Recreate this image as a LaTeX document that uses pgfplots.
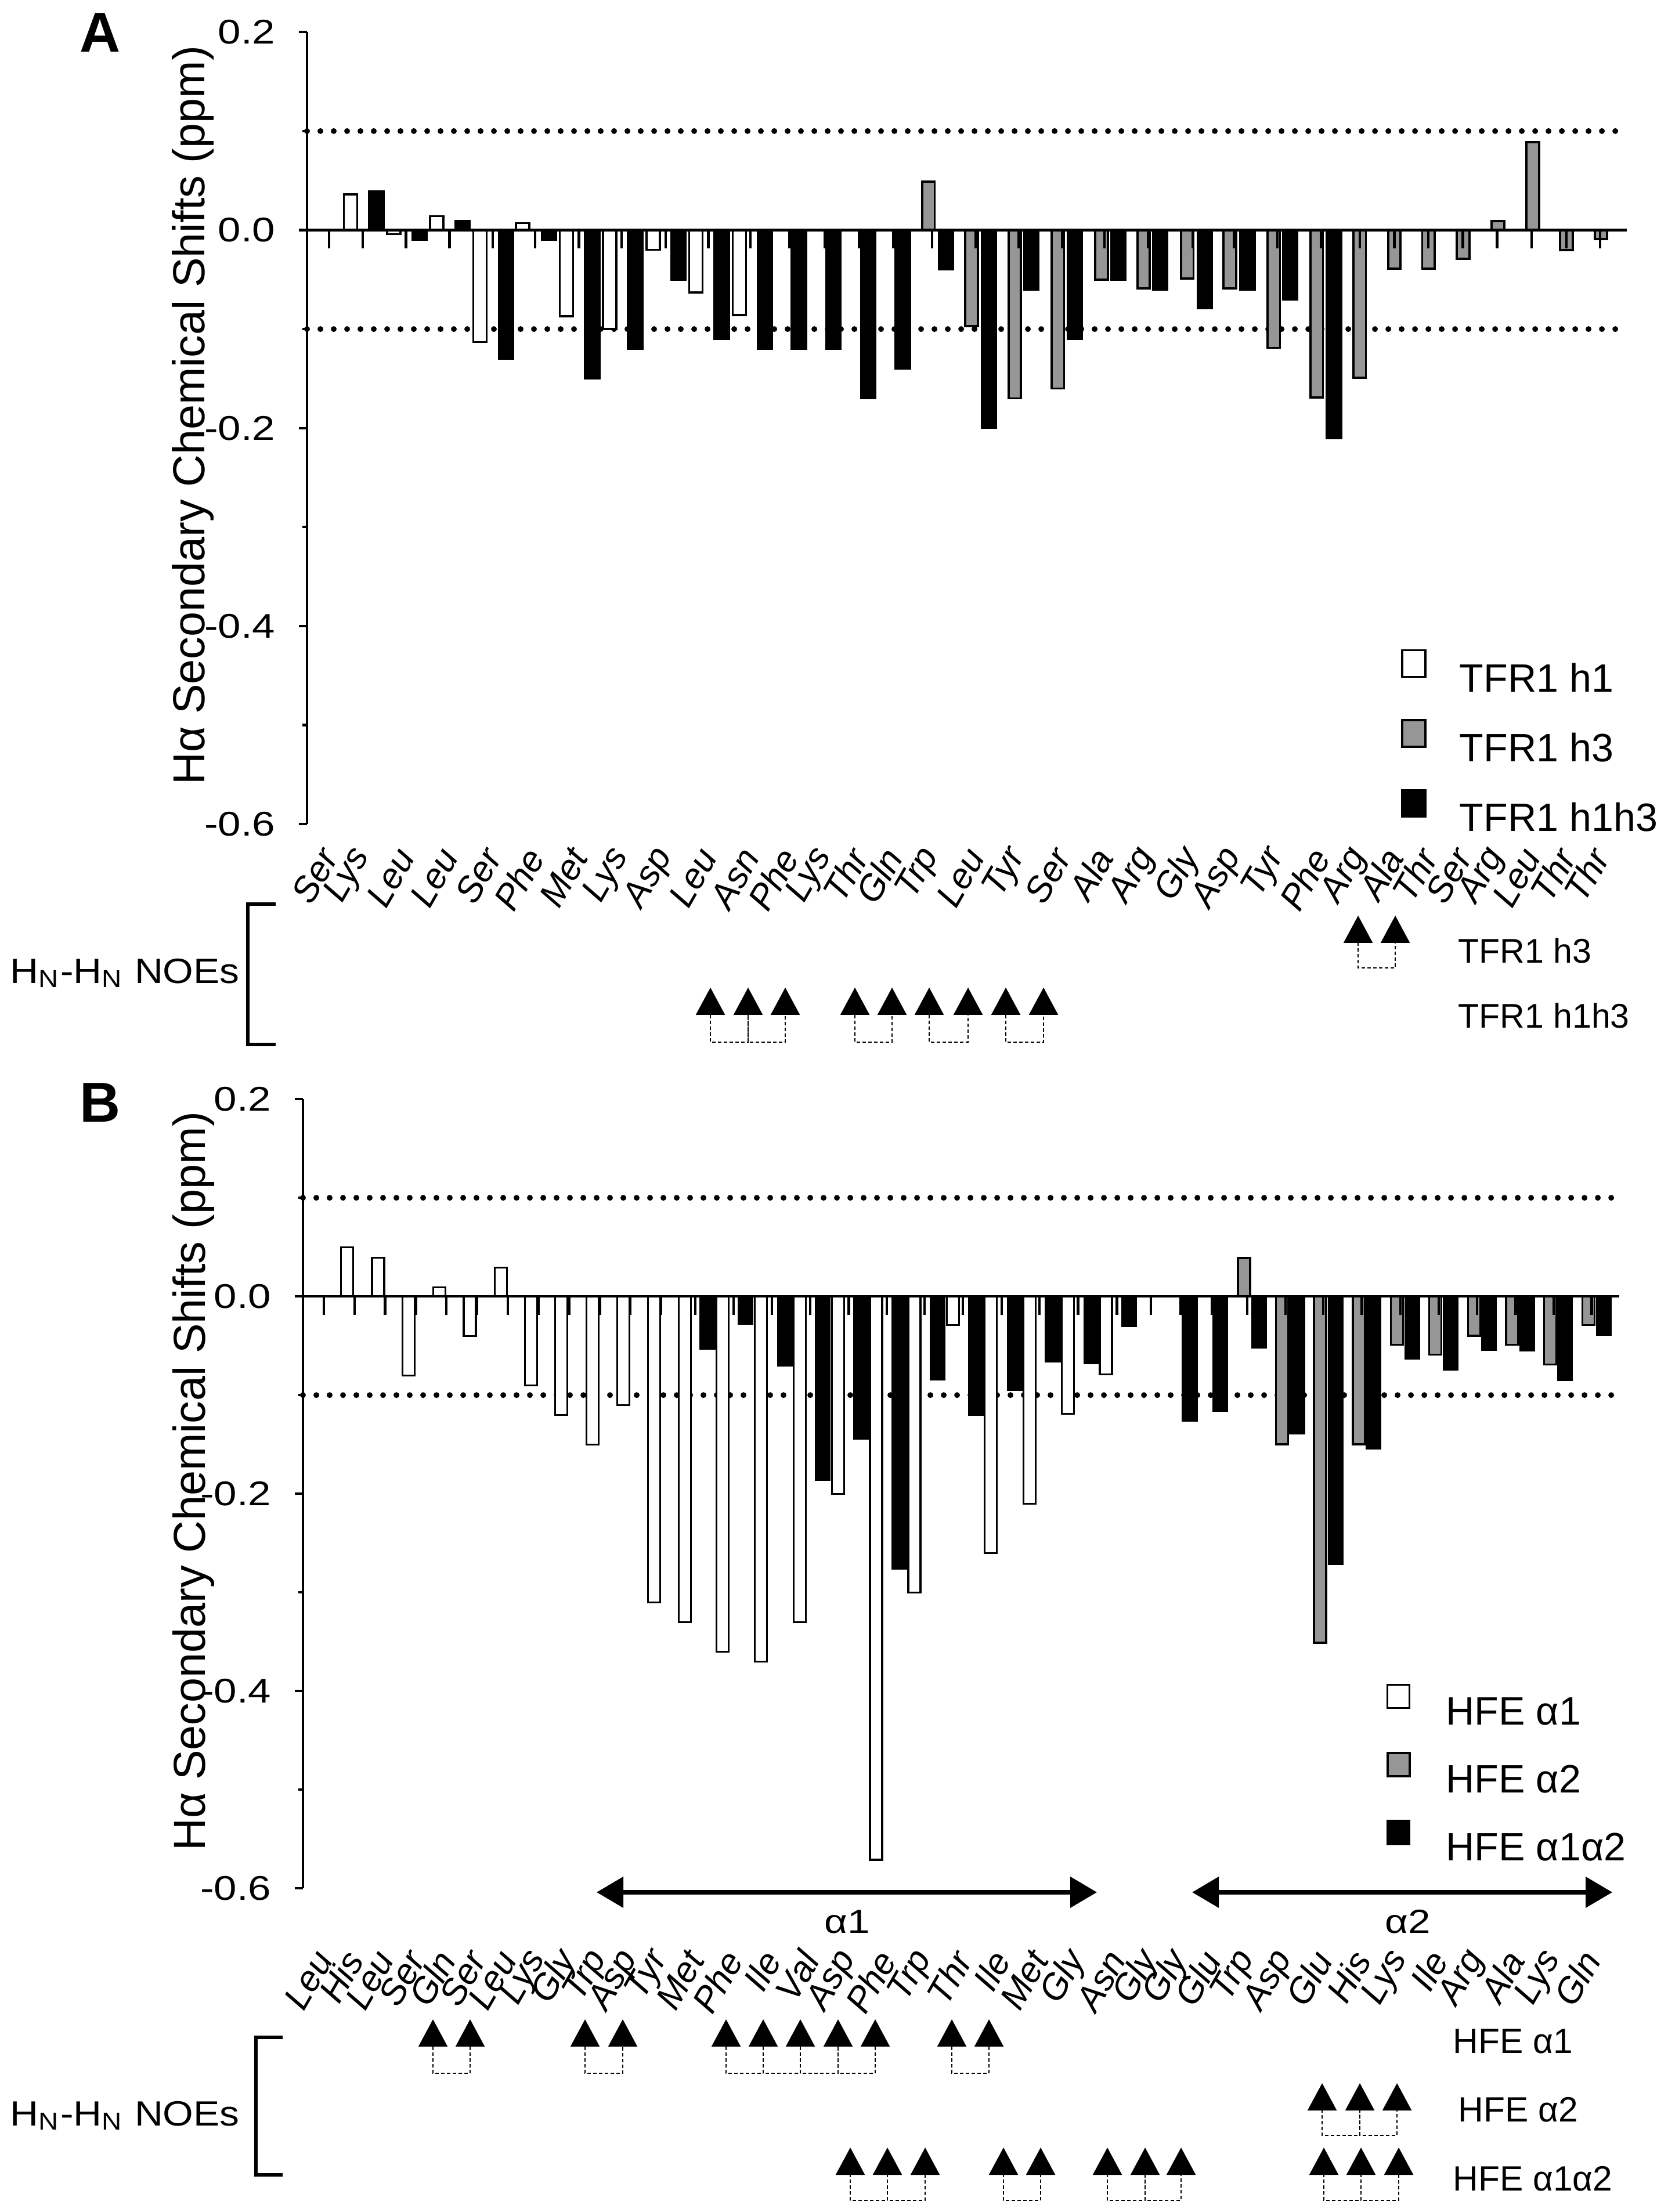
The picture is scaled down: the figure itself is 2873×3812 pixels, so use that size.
\documentclass[border=0pt]{standalone}
\usepackage{fontspec}
\setmainfont{Liberation Sans}
\newfontfamily\widefont{Liberation Sans}[FakeStretch=1.2]
\newfontfamily\noefont{Liberation Sans}[FakeStretch=1.12]
\usepackage{pgfplots}
\pgfplotsset{compat=1.18}
\usetikzlibrary{arrows.meta}
\definecolor{bargray}{RGB}{150,150,150}

% ---------------- data (x = bar centre, y = shift in ppm) ----------------
\pgfplotstableread{
x y
604.1 0.036
678.3 -0.004
752.7 0.014
827.1 -0.113
900.5 0.007
975.9 -0.087
1050.3 -0.100
1125.2 -0.020
1198.9 -0.063
1274.0 -0.086
}\Ahone
\pgfplotstableread{
x y
1599.6 0.049
1673.8 -0.097
1748.4 -0.170
1822.6 -0.160
1897.7 -0.050
1970.4 -0.059
2045.6 -0.049
2119.0 -0.059
2194.6 -0.119
2268.6 -0.169
2342.6 -0.149
2402.5 -0.039
2461.2 -0.039
2521.0 -0.029
2581.0 0.009
2640.8 0.089
2699.0 -0.020
2758.3 -0.009
}\Ahthree
\pgfplotstableread{
x y
648.5 0.039
722.9 -0.010
796.8 0.009
871.9 -0.130
945.8 -0.010
1020.7 -0.150
1094.4 -0.120
1168.8 -0.050
1243.5 -0.110
1318.0 -0.120
1376.6 -0.120
1435.8 -0.120
1495.9 -0.170
1555.5 -0.140
1629.7 -0.040
1703.8 -0.200
1777.0 -0.060
1851.7 -0.110
1926.8 -0.050
1999.0 -0.060
2076.0 -0.079
2149.5 -0.060
2223.0 -0.070
2298.6 -0.210
}\Ahboth
\pgfplotstableread{
x y
598.0 0.050
651.4 0.039
704.2 -0.080
757.0 0.009
809.4 -0.040
863.2 0.029
915.0 -0.090
967.0 -0.120
1020.7 -0.150
1073.6 -0.110
1126.9 -0.310
1179.7 -0.330
1245.2 -0.360
1310.7 -0.370
1377.6 -0.330
1444.0 -0.200
1509.5 -0.571
1575.4 -0.300
1641.8 -0.029
1707.2 -0.260
1773.6 -0.210
1839.6 -0.119
1905.5 -0.079
}\Bone
\pgfplotstableread{
x y
2143.5 0.039
2208.8 -0.150
2274.6 -0.351
2341.5 -0.150
2406.8 -0.049
2472.7 -0.059
2540.1 -0.040
2605.4 -0.049
2670.7 -0.069
2737.1 -0.029
}\Btwo
\pgfplotstableread{
x y
1219.0 -0.053
1284.5 -0.028
1352.4 -0.070
1417.4 -0.186
1483.8 -0.144
1549.7 -0.276
1615.1 -0.084
1682.0 -0.120
1748.4 -0.095
1813.9 -0.066
1880.8 -0.068
1945.7 -0.030
2049.9 -0.126
2102.7 -0.116
2169.6 -0.052
2234.9 -0.139
2301.3 -0.271
2366.6 -0.154
2433.5 -0.063
2499.3 -0.074
2565.7 -0.054
2631.0 -0.055
2696.8 -0.085
2763.2 -0.039
}\Bboth

\def\Aticks{567,625.2,699.4,774.5,848.6,922.3,997.5,1071.1,1146.8,1220.4,1293.3,1360.4,1420.7,1479.9,1539.5,1605.9,1681.5,1754.7,1829.9,1902.6,1977.7,2054.8,2126,2201,2275.7,2342.6,2402.5,2460.7,2520.5,2579.3,2639.2,2699,2757.2}
\def\Alabels{Ser,Lys,Leu,Leu,Ser,Phe,Met,Lys,Asp,Leu,Asn,Phe,Lys,Thr,Gln,Trp,Leu,Tyr,Ser,Ala,Arg,Gly,Asp,Tyr,Phe,Arg,Ala,Thr,Ser,Arg,Leu,Thr,Thr}
\def\Bticks{557.8,610.6,663.5,716.8,769.2,822,874.8,928.2,981,1033.8,1086.2,1139,1198.2,1264.1,1330.1,1396,1462.4,1527.9,1593.3,1659.2,1725.6,1791.1,1857.5,1924.4,1982.6,2034.1,2088,2149,2214.8,2280,2346.4,2412.8,2478.7,2545,2611.4,2676.7,2742.5}
\def\Blabels{Leu,His,Leu,Ser,Gln,Ser,Leu,Lys,Gly,Trp,Asp,Tyr,Met,Phe,Ile,Val,Asp,Phe,Trp,Thr,Ile,Met,Gly,Asn,Gly,Gly,Glu,Trp,Asp,Glu,His,Lys,Ile,Arg,Ala,Lys,Gln}

\pgfplotsset{
  mainax/.style={
    anchor=south west, x=0.05mm, enlargelimits=false, clip=false, axis on top,
    ymin=-0.6, ymax=0.2,
    axis x line=middle, axis y line=left,
    axis line style={-, line width=0.6pt},
    tick align=outside,
    xticklabels={},
    xtick style={/pgfplots/major tick length=1.58mm, line width=0.6pt, black},
    ytick style={/pgfplots/major tick length=0.7mm, /pgfplots/minor tick length=0.4mm, line width=0.6pt, black},
    ytick={-0.6,-0.4,-0.2,0,0.2},
    yticklabels={-0.6,-0.4,-0.2,0.0,0.2},
    minor ytick={-0.5,-0.3,-0.1,0.1},
    yticklabel style={font=\widefont\fontsize{8.4}{10}\selectfont},
    ylabel={Hα Secondary Chemical Shifts (ppm)},
    ylabel style={font=\fontsize{11}{13}\selectfont, anchor=center},
    legend cell align=left,
    legend style={draw=none, fill=none, inner sep=0pt, outer sep=0pt,
      column sep=0pt, row sep=2.35mm, anchor=north west,
      font=\fontsize{9.7}{11}\selectfont,
      nodes={inner sep=0pt, text height=2.45mm, text depth=0pt}},
  },
  labax/.style={
    anchor=south west, x=0.05mm, enlargelimits=false, clip=false,
    ymin=-0.6, ymax=0.2,
    axis x line=bottom, axis y line=none,
    x axis line style={draw=none},
    major tick length=0pt, xtick style={draw=none},
    xticklabel style={font=\itshape\fontsize{8.8}{10}\selectfont, inner sep=0pt, rotate=60, anchor=east},
  },
  dotline/.style={forget plot, line width=0.5mm, dash pattern=on 0pt off 1.15mm, line cap=round},
  sq/.style={legend image code/.code={
      \draw[##1] (0mm,0.05mm) rectangle (2.0mm,2.35mm);
      \path (0mm,0mm) (4.85mm,0mm);}},
  noearr/.style={forget plot, black, line width=0.3pt, -{Triangle[length=2.35mm,width=2.5mm]}},
  noedash/.style={forget plot, black, line width=0.4pt, dash pattern=on 0.3mm off 0.2mm},
}

\begin{document}
\begin{tikzpicture}[x=0.05mm,y=0.05mm]
\useasboundingbox (0,0) rectangle (2873,3812);

% ======================= Panel A =======================
\begin{axis}[mainax, at={(26.45mm,119.585mm)}, y=85.3mm,
  xmin=529, xmax=2803, xtick/.expand once=\Aticks,
  ylabel style={at={(axis description cs:-0.0862,0.516)}},
  legend style={at={(axis cs:2414,-0.4234)}},
  sq]
\addplot[dotline] coordinates {(529,0.1) (2800,0.1)};
\addplot[dotline] coordinates {(529,-0.1) (2800,-0.1)};
\addplot[ybar, bar shift=0pt, bar width=1.15mm, fill=white, draw=black, line width=0.5pt] table {\Ahone};
\addlegendentry{TFR1 h1}
\addplot[ybar, bar shift=0pt, bar width=1.08mm, fill=bargray, draw=black, line width=0.55pt] table {\Ahthree};
\addlegendentry{TFR1 h3}
\addplot[ybar, bar shift=0pt, bar width=1.25mm, fill=black, draw=black, line width=0.5pt] table {\Ahboth};
\addlegendentry{TFR1 h1h3}
\end{axis}
\begin{axis}[labax, at={(26.45mm,119.585mm)}, y=85.3mm,
  xmin=529, xmax=2803, xtick/.expand once=\Aticks, xticklabels/.expand once=\Alabels,
  xticklabel shift=2.3mm]
\addplot[draw=none, forget plot] coordinates {(1000,0)};
\end{axis}

% ======================= Panel B =======================
\begin{axis}[mainax, at={(26.1mm,27.885mm)}, y=85.0mm,
  xmin=522, xmax=2790, xtick/.expand once=\Bticks,
  ylabel style={at={(axis description cs:-0.0833,0.5157)}},
  legend style={at={(axis cs:2389,-0.3928)}},
  legend image code/.code={
      \draw[#1] (0mm,0.2mm) rectangle (1.9mm,2.2mm);
      \path (0mm,0mm) (4.95mm,0mm);}]
\addplot[dotline] coordinates {(522,0.1) (2786,0.1)};
\addplot[dotline] coordinates {(522,-0.1) (2786,-0.1)};
\addplot[ybar, bar shift=0pt, bar width=1.05mm, fill=white, draw=black, line width=0.45pt] table {\Bone};
\addlegendentry{HFE α1}
\addplot[ybar, bar shift=0pt, bar width=1.05mm, fill=bargray, draw=black, line width=0.5pt] table {\Btwo};
\addlegendentry{HFE α2}
\addplot[ybar, bar shift=0pt, bar width=1.2mm, fill=black, draw=black, line width=0.45pt] table {\Bboth};
\addlegendentry{HFE α1α2}
\end{axis}
\begin{axis}[labax, at={(26.1mm,27.885mm)}, y=85.0mm,
  xmin=522, xmax=2790, xtick/.expand once=\Bticks, xticklabels/.expand once=\Blabels,
  xticklabel shift=5.6mm]
\addplot[draw=none, forget plot] coordinates {(1000,0)};
\end{axis}

% ======================= annotations (pixel coordinates, y from top) =======================
\begin{axis}[at={(0mm,0mm)}, anchor=south west, x=0.05mm, y=0.05mm,
  xmin=0, xmax=2873, ymin=0, ymax=3812, hide axis, clip=false, enlargelimits=false,
  y filter/.expression={3812-y}]
% brackets
\addplot[forget plot, black, line width=0.9pt] coordinates {(475,1558) (427,1558) (427,1800) (475,1800)};
\addplot[forget plot, black, line width=0.9pt] coordinates {(487,3511) (441,3511) (441,3748) (487,3748)};
% helix arrows in panel B
\addplot[forget plot, black, line width=1.1pt, {Triangle[length=2.3mm,width=2.6mm]}-{Triangle[length=2.3mm,width=2.6mm]}] coordinates {(1028,3261) (1890,3261)};
\addplot[forget plot, black, line width=1.1pt, {Triangle[length=2.3mm,width=2.6mm]}-{Triangle[length=2.3mm,width=2.6mm]}] coordinates {(2054,3261) (2778,3261)};
% ---- panel A, TFR1 h3 row
\foreach \xx in {2340,2404} {\addplot[noearr] coordinates {(\xx,1624) (\xx,1578)};}
\addplot[noedash] coordinates {(2340,1624) (2340,1668) (2404,1668) (2404,1624)};
% ---- panel A, TFR1 h1h3 row
\foreach \xx in {1224,1289,1353,1473,1537,1601,1668,1733,1798} {\addplot[noearr] coordinates {(\xx,1749) (\xx,1702)};}
\addplot[noedash] coordinates {(1224,1749) (1224,1796) (1289,1796) (1289,1749)};
\addplot[noedash] coordinates {(1289,1749) (1289,1796) (1353,1796) (1353,1749)};
\addplot[noedash] coordinates {(1473,1749) (1473,1796) (1537,1796) (1537,1749)};
\addplot[noedash] coordinates {(1601,1749) (1601,1796) (1668,1796) (1668,1749)};
\addplot[noedash] coordinates {(1733,1749) (1733,1796) (1798,1796) (1798,1749)};
% ---- panel B, HFE a1 row
\foreach \xx in {746,810,1008,1073,1251,1315,1379,1444,1508,1640,1704} {\addplot[noearr] coordinates {(\xx,3527) (\xx,3480)};}
\addplot[noedash] coordinates {(746,3527) (746,3573) (810,3573) (810,3527)};
\addplot[noedash] coordinates {(1008,3527) (1008,3573) (1073,3573) (1073,3527)};
\addplot[noedash] coordinates {(1251,3527) (1251,3573) (1315,3573) (1315,3527)};
\addplot[noedash] coordinates {(1315,3527) (1315,3573) (1379,3573) (1379,3527)};
\addplot[noedash] coordinates {(1379,3527) (1379,3573) (1444,3573) (1444,3527)};
\addplot[noedash] coordinates {(1444,3527) (1444,3573) (1508,3573) (1508,3527)};
\addplot[noedash] coordinates {(1640,3527) (1640,3573) (1704,3573) (1704,3527)};
% ---- panel B, HFE a2 row
\foreach \xx in {2278,2343,2407} {\addplot[noearr] coordinates {(\xx,3635) (\xx,3590)};}
\addplot[noedash] coordinates {(2278,3635) (2278,3680) (2343,3680) (2343,3635)};
\addplot[noedash] coordinates {(2343,3635) (2343,3680) (2407,3680) (2407,3635)};
% ---- panel B, HFE a1a2 row
\foreach \xx in {1465,1529,1594,1729,1793,1908,1973,2035,2281,2345,2410} {\addplot[noearr] coordinates {(\xx,3746) (\xx,3701)};}
\addplot[noedash] coordinates {(1465,3746) (1465,3792) (1529,3792) (1529,3746)};
\addplot[noedash] coordinates {(1529,3746) (1529,3792) (1594,3792) (1594,3746)};
\addplot[noedash] coordinates {(1729,3746) (1729,3792) (1793,3792) (1793,3746)};
\addplot[noedash] coordinates {(1908,3746) (1908,3792) (1973,3792) (1973,3746)};
\addplot[noedash] coordinates {(1973,3746) (1973,3792) (2035,3792) (2035,3746)};
\addplot[noedash] coordinates {(2281,3746) (2281,3792) (2345,3792) (2345,3746)};
\addplot[noedash] coordinates {(2345,3746) (2345,3792) (2410,3792) (2410,3746)};
\end{axis}

% ======================= texts =======================
\node[font=\bfseries\fontsize{13.8}{16}\selectfont, inner sep=0pt] at ({173},{3812-56}) {A};
\node[font=\bfseries\fontsize{13.8}{16}\selectfont, inner sep=0pt] at ({173},{3812-1900}) {B};
\node[font=\noefont\fontsize{8.6}{10}\selectfont, anchor=west, inner sep=0pt] at ({16},{3812-1677}) {H\textsubscript{N}-H\textsubscript{N} NOEs};
\node[font=\noefont\fontsize{8.6}{10}\selectfont, anchor=west, inner sep=0pt] at ({16},{3812-3646}) {H\textsubscript{N}-H\textsubscript{N} NOEs};
\node[font=\fontsize{8.4}{10}\selectfont, anchor=west, inner sep=0pt] at ({2511},{3812-1638}) {TFR1 h3};
\node[font=\fontsize{8.4}{10}\selectfont, anchor=west, inner sep=0pt] at ({2511},{3812-1750}) {TFR1 h1h3};
\node[font=\fontsize{8.6}{10}\selectfont, anchor=west, inner sep=0pt] at ({2502},{3812-3518}) {HFE α1};
\node[font=\fontsize{8.6}{10}\selectfont, anchor=west, inner sep=0pt] at ({2511},{3812-3636}) {HFE α2};
\node[font=\fontsize{8.6}{10}\selectfont, anchor=west, inner sep=0pt] at ({2502},{3812-3755}) {HFE α1α2};
\node[font=\widefont\fontsize{8.2}{10}\selectfont, inner sep=0pt] at ({1460},{3812-3312}) {α1};
\node[font=\widefont\fontsize{8.2}{10}\selectfont, inner sep=0pt] at ({2426},{3812-3312}) {α2};
\end{tikzpicture}
\end{document}
